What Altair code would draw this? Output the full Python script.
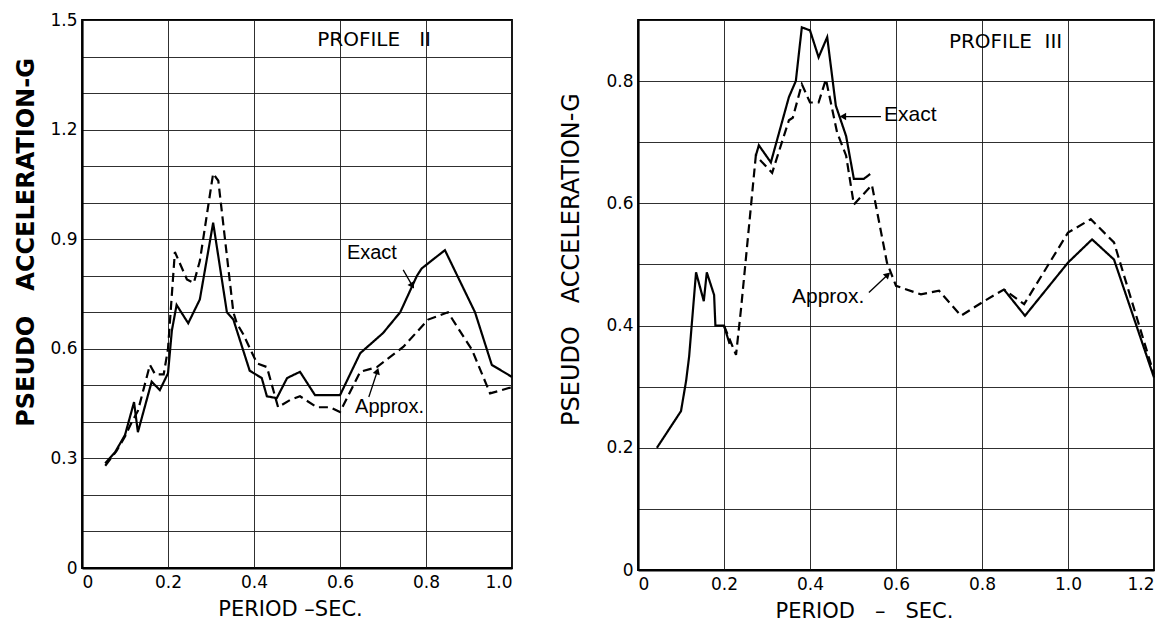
import json
import altair as alt
import pandas as pd

AXIS_FONT = "DejaVu Sans"
NOTE_FONT = "Liberation Sans"
SP = "\u00a0"  # non-breaking space, so that wide gaps survive in SVG text

# ---------------- Profile II (left panel) ----------------
P2_EXACT_T = [0.054, 0.077, 0.10, 0.121, 0.13, 0.162, 0.181, 0.20, 0.209, 0.22, 0.247,
              0.274, 0.305, 0.337, 0.352, 0.39, 0.418, 0.43, 0.453, 0.477, 0.507, 0.542,
              0.60, 0.647, 0.70, 0.74, 0.779, 0.79, 0.844, 0.914, 0.953, 1.0]
P2_EXACT_A = [0.287, 0.317, 0.364, 0.454, 0.372, 0.51, 0.487, 0.533, 0.65, 0.72, 0.67,
              0.735, 0.945, 0.70, 0.68, 0.54, 0.52, 0.47, 0.465, 0.52, 0.537, 0.473,
              0.473, 0.588, 0.643, 0.70, 0.80, 0.82, 0.87, 0.70, 0.556, 0.523]
P2_APPROX_T = [0.054, 0.08, 0.10, 0.116, 0.13, 0.158, 0.17, 0.19, 0.20, 0.216, 0.244,
               0.26, 0.274, 0.305, 0.317, 0.352, 0.36, 0.375, 0.407, 0.43, 0.456, 0.484,
               0.507, 0.546, 0.577, 0.60, 0.647, 0.686, 0.747, 0.805, 0.851, 0.907, 0.949, 1.0]
P2_APPROX_A = [0.28, 0.32, 0.36, 0.40, 0.43, 0.556, 0.53, 0.53, 0.60, 0.865, 0.79,
               0.78, 0.84, 1.08, 1.06, 0.70, 0.67, 0.64, 0.56, 0.55, 0.44, 0.46,
               0.47, 0.44, 0.44, 0.427, 0.537, 0.55, 0.605, 0.68, 0.70, 0.597, 0.478, 0.495]

# ---------------- Profile III (right panel) ----------------
# Exact curve drawn where it departs from the approximate one (three pieces)
P3_EXACT_T1 = [0.044, 0.10, 0.112, 0.119, 0.135, 0.153, 0.16, 0.177, 0.18, 0.20, 0.213]
P3_EXACT_A1 = [0.20, 0.26, 0.31, 0.35, 0.487, 0.44, 0.487, 0.45, 0.40, 0.40, 0.37]
P3_EXACT_T2 = [0.274, 0.281, 0.309, 0.351, 0.367, 0.381, 0.40, 0.42, 0.44, 0.46, 0.484,
               0.502, 0.525, 0.54]
P3_EXACT_A2 = [0.678, 0.695, 0.667, 0.774, 0.80, 0.888, 0.883, 0.839, 0.872, 0.76, 0.71,
               0.64, 0.64, 0.648]
P3_EXACT_T3 = [0.851, 0.90, 1.0, 1.056, 1.107, 1.2]
P3_EXACT_A3 = [0.459, 0.416, 0.503, 0.541, 0.508, 0.315]
P3_APPROX_T = [0.20, 0.228, 0.24, 0.274, 0.312, 0.351, 0.36, 0.381, 0.40, 0.42, 0.437,
               0.463, 0.484, 0.502, 0.544, 0.579, 0.60, 0.658, 0.70, 0.751, 0.805, 0.851,
               0.898, 1.0, 1.053, 1.107, 1.2]
P3_APPROX_A = [0.40, 0.352, 0.43, 0.678, 0.65, 0.736, 0.74, 0.795, 0.765, 0.765, 0.803,
               0.716, 0.678, 0.598, 0.63, 0.503, 0.465, 0.451, 0.457, 0.416, 0.44, 0.459,
               0.435, 0.552, 0.574, 0.536, 0.32]

# ---------------- axes ----------------
P2_X_TICKS = [0, 0.2, 0.4, 0.6, 0.8, 1.0]
P2_X_LABELS = ["0", "0.2", "0.4", "0.6", "0.8", "1.0"]
P2_Y_GRID = [0, 0.1, 0.2, 0.3, 0.4, 0.5, 0.6, 0.7, 0.8, 0.9, 1.0, 1.1, 1.2, 1.3, 1.4, 1.5]
P2_Y_LABELS = ["0", "0.3", "0.6", "0.9", "1.2", "1.5"]

P3_X_TICKS = [0, 0.2, 0.4, 0.6, 0.8, 1.0, 1.2]
P3_X_LABELS = ["0", "0.2", "0.4", "0.6", "0.8", "1.0", "1.2"]
P3_Y_GRID = [0, 0.1, 0.2, 0.3, 0.4, 0.5, 0.6, 0.7, 0.8, 0.9]
P3_Y_LABELS = ["0", "0.2", "0.4", "0.6", "0.8"]


def label_expr(labels):
    s = "(datum.value < 0.001 ? '0' : format(datum.value, '.1f'))"
    return f"indexof({json.dumps(labels)}, {s}) >= 0 ? {s} : ''"


def lines_df(pieces):
    rows = []
    for series, seg, ts, accs in pieces:
        for i, (t, a) in enumerate(zip(ts, accs)):
            rows.append({"period": t, "acc": a, "series": series, "seg": seg, "idx": i})
    return pd.DataFrame(rows)


def panel(df, xmax, ymax, xticks, xlabels, ygrid, ylabels, w, h,
          xtitle, xtitle_x, ytitle, ytitle_x, ytitle_y, ytitle_size, ytitle_weight,
          notes, arrows):
    xs = alt.Scale(domain=[0, xmax], nice=False, zero=False)
    ys = alt.Scale(domain=[0, ymax], nice=False, zero=False)
    xaxis = alt.Axis(values=xticks, tickCount=len(xticks) + 4,
                     labelExpr=label_expr(xlabels), title=xtitle, labelOverlap=False,
                     titleX=xtitle_x, titleY=41, titleAlign="center", titleBaseline="middle",
                     titleFontSize=21, titleFontWeight="normal", titleFont=AXIS_FONT)
    yaxis = alt.Axis(values=ygrid, tickCount=len(ygrid) + 4,
                     labelExpr=label_expr(ylabels), title=ytitle, labelOverlap=False,
                     titleAngle=270, titleX=ytitle_x, titleY=ytitle_y, titleAlign="center",
                     titleBaseline="middle", titleFontSize=ytitle_size,
                     titleFontWeight=ytitle_weight, titleFont=AXIS_FONT)
    lines = alt.Chart(df).mark_line(color="black", strokeWidth=2.2).encode(
        x=alt.X("period:Q", scale=xs, axis=xaxis),
        y=alt.Y("acc:Q", scale=ys, axis=yaxis),
        strokeDash=alt.StrokeDash("series:N",
                                  scale=alt.Scale(domain=["Exact", "Approx."],
                                                  range=[[1, 0], [9, 5]]),
                                  legend=None),
        detail="seg:N",
        order="idx:Q",
    )
    layers = [lines]
    adf = pd.DataFrame(arrows, columns=["x", "y", "x2", "y2", "ang"])
    layers.append(alt.Chart(adf).mark_rule(color="black", strokeWidth=1.3).encode(
        x=alt.X("x:Q", scale=xs, axis=xaxis), y=alt.Y("y:Q", scale=ys, axis=yaxis),
        x2="x2:Q", y2="y2:Q"))
    layers.append(alt.Chart(adf).mark_point(shape="triangle", filled=True, color="black",
                                            size=55, opacity=1).encode(
        x=alt.X("x2:Q", scale=xs, axis=xaxis), y=alt.Y("y2:Q", scale=ys, axis=yaxis),
        angle=alt.Angle("ang:Q", scale=None)))
    for (nx, ny, label, size, font) in notes:
        ndf = pd.DataFrame([{"x": nx, "y": ny, "label": label}])
        layers.append(alt.Chart(ndf).mark_text(align="left", baseline="middle",
                                               color="black", font=font,
                                               fontSize=size).encode(
            x=alt.X("x:Q", scale=xs, axis=xaxis), y=alt.Y("y:Q", scale=ys, axis=yaxis),
            text="label:N"))
    return alt.layer(*layers).properties(width=w, height=h)


left_df = lines_df([
    ("Exact", "e", P2_EXACT_T, P2_EXACT_A),
    ("Approx.", "a", P2_APPROX_T, P2_APPROX_A),
])
right_df = lines_df([
    ("Exact", "e1", P3_EXACT_T1, P3_EXACT_A1),
    ("Exact", "e2", P3_EXACT_T2, P3_EXACT_A2),
    ("Exact", "e3", P3_EXACT_T3, P3_EXACT_A3),
    ("Approx.", "a", P3_APPROX_T, P3_APPROX_A),
])

left = panel(
    left_df, 1.0, 1.5, P2_X_TICKS, P2_X_LABELS, P2_Y_GRID, P2_Y_LABELS, 430, 548,
    "PERIOD" + SP + "\u2013SEC.", 208,
    "PSEUDO" + SP * 3 + "ACCELERATION-G", -56, 222, 24, "bold",
    [(0.547, 1.445, "PROFILE" + SP * 3 + "II", 20, AXIS_FONT),
     (0.616, 0.862, "Exact", 20, NOTE_FONT),
     (0.635, 0.44, "Approx.", 20, NOTE_FONT)],
    [(0.747, 0.816, 0.767, 0.775, 149), (0.667, 0.468, 0.686, 0.536, 18)],
)
right = panel(
    right_df, 1.2, 0.9, P3_X_TICKS, P3_X_LABELS, P3_Y_GRID, P3_Y_LABELS, 516, 550,
    "PERIOD" + SP * 3 + "\u2013" + SP * 3 + "SEC.", 226,
    "PSEUDO" + SP * 3 + "ACCELERATION-G", -67, 239, 24, "normal",
    [(0.723, 0.864, "PROFILE" + SP * 2 + "III", 20, AXIS_FONT),
     (0.572, 0.744, "Exact", 21, NOTE_FONT),
     (0.358, 0.446, "Approx.", 21, NOTE_FONT)],
    [(0.565, 0.742, 0.479, 0.742, 270), (0.537, 0.454, 0.579, 0.482, 47)],
)

chart = alt.hconcat(left, right, spacing=40).properties(
    padding={"left": 5, "top": 2, "right": 0, "bottom": 0}
).configure_view(
    stroke="black", strokeWidth=1.8
).configure_axis(
    grid=True, gridColor="#1a1a1a", gridWidth=1, gridOpacity=0.9,
    ticks=False, domain=True, domainColor="black", domainWidth=2.2,
    labelFont=AXIS_FONT, labelFontSize=17, labelColor="black", labelPadding=5,
    labelOverlap=False, titleColor="black",
).configure_axisX(labelPadding=6)

chart.save("out.html", embed_options={"renderer": "svg", "actions": False})
